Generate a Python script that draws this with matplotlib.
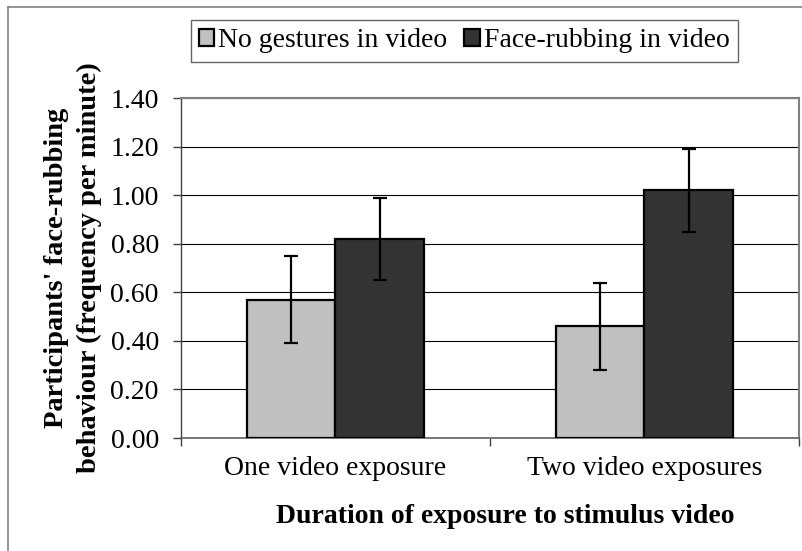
import matplotlib
matplotlib.use("Agg")
import matplotlib.pyplot as plt
from matplotlib.lines import Line2D
from matplotlib.font_manager import FontProperties
import numpy as np

plt.rcParams['font.family'] = ['serif']
plt.rcParams['font.serif'] = ['Liberation Serif', 'DejaVu Serif']

categories = ["One video exposure", "Two video exposures"]
series_names = ["No gestures in video", "Face-rubbing in video"]
no_gestures = [0.57, 0.46]
no_gestures_err = [0.18, 0.18]
face_rubbing = [0.82, 1.02]
face_rubbing_err = [0.17, 0.17]
y_ticks = [0.0, 0.2, 0.4, 0.6, 0.8, 1.0, 1.2, 1.4]

W, H = 803, 551
fig = plt.figure(figsize=(W / 100, H / 100), dpi=100)
fig.patch.set_facecolor('white')

# outer chart border (only top/left visible in the crop)
fig.add_artist(Line2D([8 / W, 8 / W], [0, 1 - 7 / H], transform=fig.transFigure, color='#808080', lw=1.2))
fig.add_artist(Line2D([8 / W, 1], [1 - 7 / H, 1 - 7 / H], transform=fig.transFigure, color='#808080', lw=1.2))

left, right, top, bottom = 181, 799, 98, 438
ax = fig.add_axes([left / W, 1 - bottom / H, (right - left) / W, (bottom - top) / H])

centers = np.arange(len(categories)) + 0.5
bw = 88 / 308
fs = 20

ax.bar(centers - bw / 2, no_gestures, width=bw, color='#C0C0C0', edgecolor='black', linewidth=1.6,
       label=series_names[0], zorder=3)
ax.bar(centers + bw / 2, face_rubbing, width=bw, color='#333333', edgecolor='black', linewidth=1.6,
       label=series_names[1], zorder=3)
ax.errorbar(centers - bw / 2, no_gestures, yerr=no_gestures_err, fmt='none', ecolor='black',
            elinewidth=1.6, capsize=5, capthick=1.6, zorder=4)
ax.errorbar(centers + bw / 2, face_rubbing, yerr=face_rubbing_err, fmt='none', ecolor='black',
            elinewidth=1.6, capsize=5, capthick=1.6, zorder=4)

ax.set_xlim(0, len(categories))
ax.set_ylim(0, 1.4)
ax.set_yticks(y_ticks)
ax.set_yticklabels([f"{v:.2f}" for v in y_ticks], fontsize=fs)
ax.yaxis.grid(True, color='black', linewidth=0.8, zorder=0)
ax.set_axisbelow(True)

ax.set_xticks(np.arange(len(categories) + 1))
ax.set_xticklabels([])
ax.set_xticks(centers, minor=True)
ax.set_xticklabels(categories, minor=True, fontsize=fs)
ax.tick_params(axis='x', which='minor', length=0, pad=13)
ax.tick_params(axis='x', which='major', length=6, width=1, color='#404040', direction='out')
ax.tick_params(axis='y', length=6, width=1, color='#404040', direction='out', pad=10)

for s in ['top', 'right']:
    ax.spines[s].set_color('#808080')
    ax.spines[s].set_linewidth(1.5)
ax.spines['left'].set_color('#404040')
ax.spines['bottom'].set_color('#606060')
ax.spines['left'].set_linewidth(1.0)
ax.spines['bottom'].set_linewidth(1.2)

fig.text(505 / W, 1 - 523 / H, "Duration of exposure to stimulus video",
         fontsize=fs, fontweight='bold', ha='center', va='baseline')
fig.text(73 / W, 1 - 268 / H, "Participants' face-rubbing\nbehaviour (frequency per minute)",
         fontsize=20.5, fontweight='bold', ha='center', va='center', rotation=90,
         multialignment='center', linespacing=1.42)

leg_prop = FontProperties(family=['Liberation Serif', 'DejaVu Serif'], size=fs)
leg = fig.legend(loc='upper left', bbox_to_anchor=(190.7 / W, 1 - 20 / H), ncol=2,
                 prop=leg_prop,
                 frameon=True, fancybox=False, edgecolor='#404040', borderaxespad=0,
                 handlelength=0.55, handleheight=0.55, handletextpad=0.15, columnspacing=0.6,
                 borderpad=0.3)
for t in leg.get_texts():
    t.set_fontproperties(leg_prop)
leg.get_frame().set_linewidth(1.0)

fig.savefig("out.png", dpi=100, facecolor='white')
